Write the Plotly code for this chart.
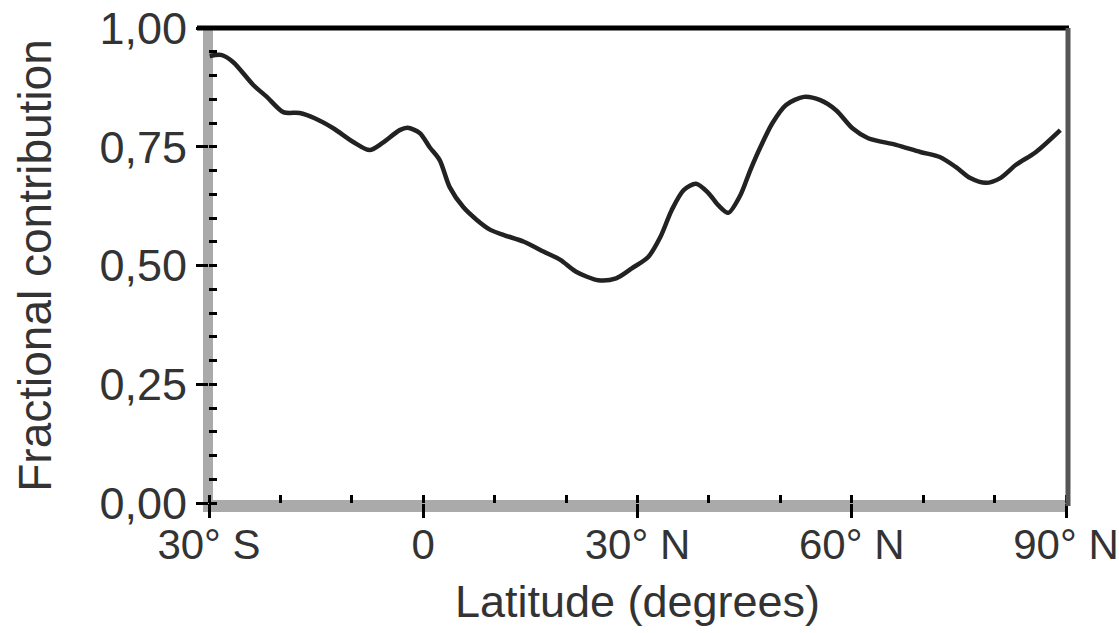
import plotly.graph_objects as go

# Data
latitude = [-29.9, -28.2, -26.6, -23.8, -21.9, -19.6, -17.3, -15.2, -12.6, -9.8,
            -7.5, -5.7, -3.3, -2.2, -0.5, 0.9, 2.3, 3.7, 5.6, 7.5, 9.4,
            11.3, 14.1, 16.9, 19.2, 21.4, 24.5, 27.0, 29.2, 31.5, 33.2, 34.8,
            36.5, 38.2, 39.9, 41.3, 42.7, 44.4, 45.8, 47.2, 48.9, 50.8, 53.3,
            55.6, 57.8, 60.1, 62.3, 66.2, 69.6, 72.4, 74.6, 76.6, 78.8, 80.8,
            83.0, 85.8, 89.2]
fraction = [0.941, 0.943, 0.928, 0.880, 0.855, 0.823, 0.821, 0.810, 0.789, 0.760,
            0.743, 0.758, 0.785, 0.790, 0.779, 0.749, 0.722, 0.665, 0.623, 0.596, 0.575,
            0.564, 0.550, 0.529, 0.512, 0.487, 0.469, 0.473, 0.494, 0.518, 0.560, 0.617,
            0.659, 0.672, 0.653, 0.627, 0.611, 0.648, 0.701, 0.749, 0.800, 0.838, 0.855,
            0.848, 0.827, 0.789, 0.768, 0.754, 0.739, 0.728, 0.707, 0.684, 0.674, 0.684,
            0.712, 0.739, 0.785]

x_tickvals = [-30, 0, 30, 60, 90]
x_ticktext = ["30° S", "0", "30° N", "60° N", "90° N"]
y_tickvals = [0, 0.25, 0.5, 0.75, 1.0]
y_ticktext = ["0,00", "0,25", "0,50", "0,75", "1,00"]

FONT = "Liberation Sans, Arial, sans-serif"
TXT = "#333333"

W, H = 1119, 633
L, T = 209, 28
PW, PH = 857, 475
R, B = W - L - PW, H - T - PH

fig = go.Figure()
fig.add_trace(go.Scatter(
    x=latitude, y=fraction, mode="lines",
    line=dict(color="#222222", width=4.5, shape="spline", smoothing=0.8),
    showlegend=False, hoverinfo="skip",
))

shapes = [
    # thick grey bottom axis band
    dict(type="rect", xref="paper", yref="paper", x0=-6 / PW, x1=1, y0=-9 / PH, y1=3 / PH,
         fillcolor="#aaaaaa", line=dict(width=0), layer="below"),
    # thick grey left axis band
    dict(type="rect", xref="paper", yref="paper", x0=-6 / PW, x1=4 / PW, y0=-9 / PH, y1=1,
         fillcolor="#aaaaaa", line=dict(width=0), layer="below"),
    # black top border
    dict(type="line", xref="paper", yref="paper", x0=-12 / PW, x1=1 + 3 / PW, y0=1, y1=1,
         line=dict(color="#000000", width=5)),
    # right border
    dict(type="line", xref="paper", yref="paper", x0=1 + 2 / PW, x1=1 + 2 / PW, y0=-3 / PH, y1=1,
         line=dict(color="#555555", width=5)),
]

fig.update_layout(
    width=W, height=H,
    margin=dict(l=L, r=R, t=T, b=B, autoexpand=False),
    paper_bgcolor="white", plot_bgcolor="white",
    font=dict(family=FONT, size=45, color=TXT),
    shapes=shapes,
    xaxis=dict(
        range=[-30, 90], tickvals=x_tickvals, ticktext=x_ticktext,
        showgrid=False, zeroline=False, showline=False,
        ticks="outside", ticklen=14, tickwidth=3, tickcolor="#000000",
        minor=dict(tick0=-30, dtick=10, ticks="inside", ticklen=8, tickwidth=3,
                   tickcolor="#000000", showgrid=False),
        tickfont=dict(family=FONT, size=42, color=TXT),
        ticklabeloverflow="allow",
        ticklabelstandoff=-9,
        title=dict(text="Latitude (degrees)", font=dict(family=FONT, size=45, color=TXT),
                   standoff=18),
        automargin=False,
    ),
    yaxis=dict(
        range=[0, 1], tickvals=y_tickvals, ticktext=y_ticktext,
        showgrid=False, zeroline=False, showline=False,
        ticks="outside", ticklen=12, tickwidth=3, tickcolor="#000000",
        minor=dict(tick0=0, dtick=0.05, ticks="inside", ticklen=8, tickwidth=3,
                   tickcolor="#000000", showgrid=False),
        tickfont=dict(family=FONT, size=45, color=TXT),
        ticklabeloverflow="allow",
        title=dict(text="Fractional contribution", font=dict(family=FONT, size=46, color=TXT),
                   standoff=33),
        automargin=False,
    ),
)

fig.write_html(
    "out.html",
    config={"displayModeBar": False},
    post_script="document.body.style.margin='0';document.body.style.overflow='hidden';",
)
